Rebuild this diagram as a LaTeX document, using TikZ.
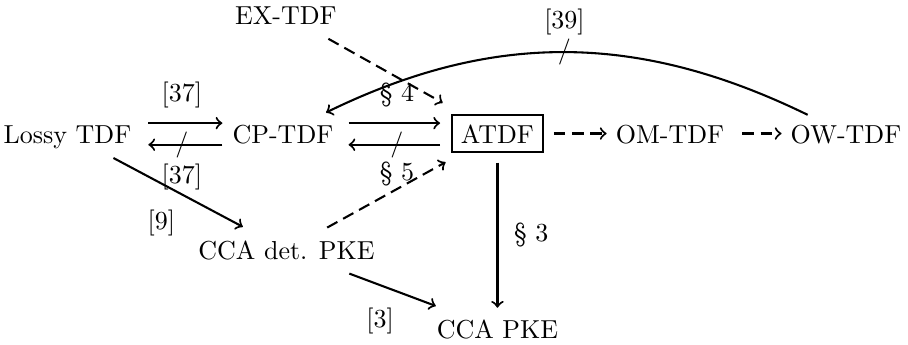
\documentclass[tikz,border=0pt]{standalone}
\usetikzlibrary{positioning,arrows}
\begin{document}
\begin{tikzpicture}[
prim/.style={
  text height=1.7ex,
  text depth=0pt
},
boxed/.style={
  prim,
  draw,
  thick
},
imp/.style={
  ->,
  thick
},
weak/.style={
  imp,
  dash pattern=on 4.5pt off 2.5pt
}
]
\useasboundingbox (-0.912,-2.845) rectangle (11.361,1.805);
\node[prim] (lossy) at (0,0) {Lossy TDF};
\node[prim] (cp) at (2.913,0) {CP-TDF};
\node[boxed] (atdf) at (5.812,0) {ATDF};
\node[prim] (om) at (8.144,0) {OM-TDF};
\node[prim] (ow) at (10.523,0) {OW-TDF};
\node[prim] (ex) at (2.953,1.602) {EX-TDF};
\node[prim] (ccadet) at (2.960,-1.575) {CCA det. PKE};
\node[prim] (ccapke) at (5.812,-2.643) {CCA PKE};

% Lossy TDF <-> CP-TDF
\draw[imp,shorten <=3pt,shorten >=0.4pt] ([yshift=4pt]lossy.east) --
  node[above=2pt] {[37]} ([yshift=4pt]cp.west);
\draw[imp,shorten <=0.4pt,shorten >=3pt] ([yshift=-4.3pt]cp.west) --
  node {/} node[below=3.8pt] {[37]} ([yshift=-4.3pt]lossy.east);

% CP-TDF <-> ATDF
\draw[imp,shorten <=2.3pt,shorten >=4.3pt] ([yshift=4pt]cp.east) --
  node[above=2.6pt] {\S~4} ([yshift=4pt]atdf.west);
\draw[imp,shorten <=4.3pt,shorten >=2.3pt] ([yshift=-4.3pt]atdf.west) --
  node {/} node[below=2.8pt] {\S~5} ([yshift=-4.3pt]cp.east);

\draw[weak,shorten <=4pt,shorten >=9pt] (ex) -- (atdf);
\draw[weak,shorten <=3pt,shorten >=7.5pt] (ccadet) -- (atdf);
\draw[imp,shorten <=4.7pt,shorten >=3.7pt] (lossy) --
  node[below=3.1pt,xshift=-6pt] {[9]} (ccadet);
\draw[imp,shorten <=5.3pt,shorten >=4.8pt] (ccadet) --
  node[below=3.4pt,xshift=-4.6pt] {[3]} (ccapke);
\draw[imp,shorten <=3.8pt,shorten >=1pt] (atdf) --
  node[right=2.7pt,yshift=-1.5pt] {\S~3} (ccapke);
\draw[weak,shorten <=3.9pt] (atdf) -- (om);
\draw[weak,shorten <=3.5pt] (om) -- (ow);

\draw[imp,shorten >=2pt] (ow) to[bend right=26]
  node {/} node[above=2.8pt] {[39]} (cp);
\end{tikzpicture}
\end{document}
